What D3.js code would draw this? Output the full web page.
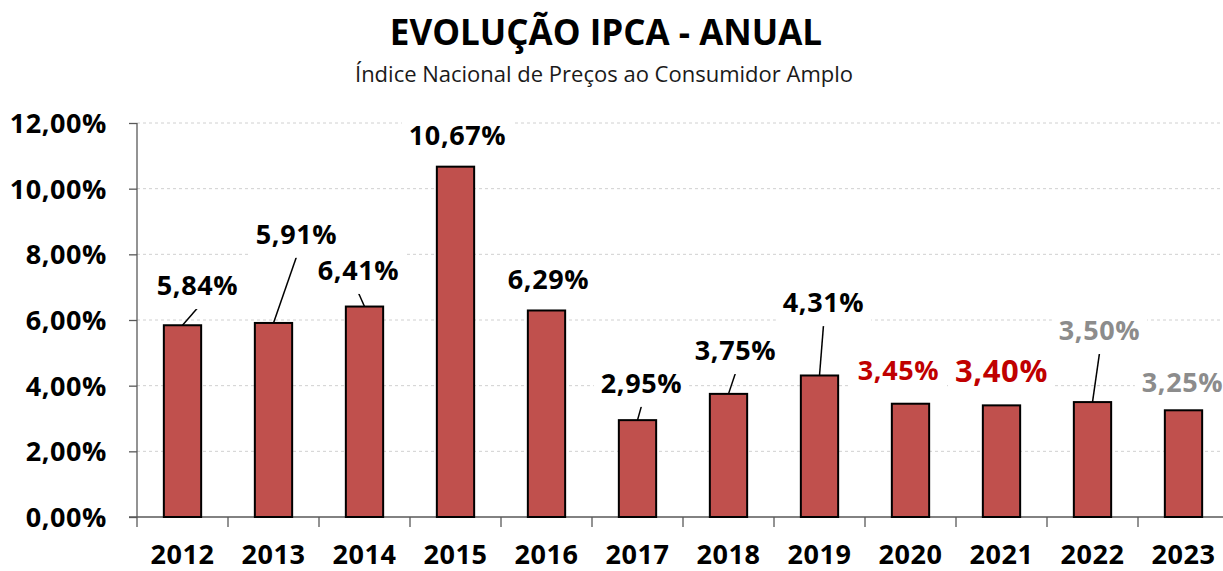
<!DOCTYPE html>
<html>
<head>
<meta charset="utf-8">
<script src="https://cdn.jsdelivr.net/npm/d3@7"></script>
<style>
  body { margin: 0; background: #fff; }
  text { font-family: "Open Sans", sans-serif; }
</style>
</head>
<body>
<div id="chart"></div>
<script>
// Data
var years = ["2012", "2013", "2014", "2015", "2016", "2017", "2018", "2019", "2020", "2021", "2022", "2023"];
var ipca = [5.84, 5.91, 6.41, 10.67, 6.29, 2.95, 3.75, 4.31, 3.45, 3.40, 3.50, 3.25];
var yTicks = [0, 2, 4, 6, 8, 10, 12];

// Label placement (dx in px from bar centre, baseline in % units) and which labels get a leader line
var labelDx = [15, 23, -6, 2, 2, 4, 7, 4, -12, 0, 7, -1];
var labelLevel = [6.76, 8.32, 7.22, 11.33, 6.94, 3.78, 4.78, 6.24, 4.17, 4.11, 5.39, 3.81];
var leaderYears = ["2012", "2013", "2014", "2017", "2018", "2019", "2022"];
var redYears = ["2020", "2021"];
var grayYears = ["2022", "2023"];

var svgWidth = 1223;
var svgHeight = 571;

var margin = { top: 123, right: -6, bottom: 54, left: 137 };
var width = svgWidth - margin.left - margin.right;
var height = svgHeight - margin.top - margin.bottom;

var svg = d3.select("#chart")
    .append("svg")
    .attr("width", svgWidth)
    .attr("height", svgHeight);

// Title and subtitle
svg.append("text")
    .attr("x", 606)
    .attr("y", 45)
    .attr("text-anchor", "middle")
    .style("font-size", "35px")
    .style("font-weight", "bold")
    .text("EVOLUÇÃO IPCA - ANUAL");

svg.append("text")
    .attr("x", 604)
    .attr("y", 82)
    .attr("text-anchor", "middle")
    .style("font-size", "22px")
    .style("fill", "#1a1a1a")
    .text("Índice Nacional de Preços ao Consumidor Amplo");

var chartGroup = svg.append("g")
    .attr("transform", `translate(${margin.left}, ${margin.top})`);

// Scales
var x = d3.scaleBand()
    .domain(years)
    .range([0, width])
    .padding(0);

var y = d3.scaleLinear()
    .domain([0, 12])
    .range([height, 0]);

var barWidth = x.bandwidth() * 0.41;
var fmt = d => d.toFixed(2).replace(".", ",") + "%";

// Dashed gridlines
chartGroup.selectAll(".grid")
    .data(yTicks.filter(d => d > 0))
    .enter()
    .append("line")
    .attr("class", "grid")
    .attr("x1", 0)
    .attr("x2", width)
    .attr("y1", d => y(d))
    .attr("y2", d => y(d))
    .attr("stroke", "#d0d0d0")
    .attr("stroke-width", 1)
    .attr("stroke-dasharray", "3,3");

// Y axis
var leftAxis = d3.axisLeft(y)
    .tickValues(yTicks)
    .tickFormat(fmt)
    .tickSize(8)
    .tickPadding(22);

var yAxis = chartGroup.append("g")
    .call(leftAxis);

yAxis.select(".domain").remove();
yAxis.selectAll("line").attr("stroke", "#595959").attr("stroke-width", 1.3);
yAxis.selectAll("text")
    .style("font-family", "'Open Sans', sans-serif")
    .style("font-size", "27px")
    .style("font-weight", "bold")
    .style("letter-spacing", "0.6px")
    .attr("fill", "#000")
    .attr("dy", "0.35em");

chartGroup.append("line")
    .attr("x1", 0).attr("x2", 0)
    .attr("y1", 0).attr("y2", height + 10)
    .attr("stroke", "#595959")
    .attr("stroke-width", 1.3);

// X axis
chartGroup.append("line")
    .attr("x1", -8).attr("x2", width)
    .attr("y1", height).attr("y2", height)
    .attr("stroke", "#595959")
    .attr("stroke-width", 1.3);

chartGroup.selectAll(".xtick")
    .data(years.slice(1))
    .enter()
    .append("line")
    .attr("class", "xtick")
    .attr("x1", d => x(d))
    .attr("x2", d => x(d))
    .attr("y1", height)
    .attr("y2", height + 10)
    .attr("stroke", "#595959")
    .attr("stroke-width", 1.3);

chartGroup.selectAll(".xlabel")
    .data(years)
    .enter()
    .append("text")
    .attr("class", "xlabel")
    .attr("x", d => x(d) + x.bandwidth() / 2)
    .attr("y", height + 47)
    .attr("text-anchor", "middle")
    .style("font-size", "27px")
    .style("font-weight", "bold")
    .style("letter-spacing", "0.5px")
    .text(d => d);

// Bars
chartGroup.selectAll(".bar")
    .data(years)
    .enter()
    .append("rect")
    .attr("class", "bar")
    .attr("x", d => x(d) + (x.bandwidth() - barWidth) / 2)
    .attr("y", (d, i) => y(ipca[i]))
    .attr("width", barWidth)
    .attr("height", (d, i) => height - y(ipca[i]))
    .attr("fill", "#C0504D")
    .attr("stroke", "#000")
    .attr("stroke-width", 2);

// Data labels with white boxes (they cut the gridlines like in the original)
var labelGroup = chartGroup.append("g");

years.forEach(function (yr, i) {
    var cx = x(yr) + x.bandwidth() / 2;
    var lx = cx + labelDx[i];
    var ly = y(labelLevel[i]);

    if (leaderYears.indexOf(yr) >= 0) {
        labelGroup.append("line")
            .attr("x1", cx)
            .attr("y1", y(ipca[i]))
            .attr("x2", lx)
            .attr("y2", ly + 13)
            .attr("stroke", "#000")
            .attr("stroke-width", 1.5);
    }

    var color = "#000";
    if (redYears.indexOf(yr) >= 0) color = "#C00000";
    if (grayYears.indexOf(yr) >= 0) color = "#8C8C8C";

    var box = labelGroup.append("rect").attr("fill", "#fff");

    var t = labelGroup.append("text")
        .attr("x", lx)
        .attr("y", ly)
        .attr("text-anchor", "middle")
        .style("font-size", yr === "2021" ? "31px" : "27px")
        .style("font-weight", "bold")
        .style("letter-spacing", "0.6px")
        .attr("fill", color)
        .text(fmt(ipca[i]));

    var bb = t.node().getBBox();
    box.attr("x", bb.x - 7)
        .attr("y", bb.y + 2)
        .attr("width", bb.width + 14)
        .attr("height", bb.height + 4);
});
</script>
</body>
</html>
